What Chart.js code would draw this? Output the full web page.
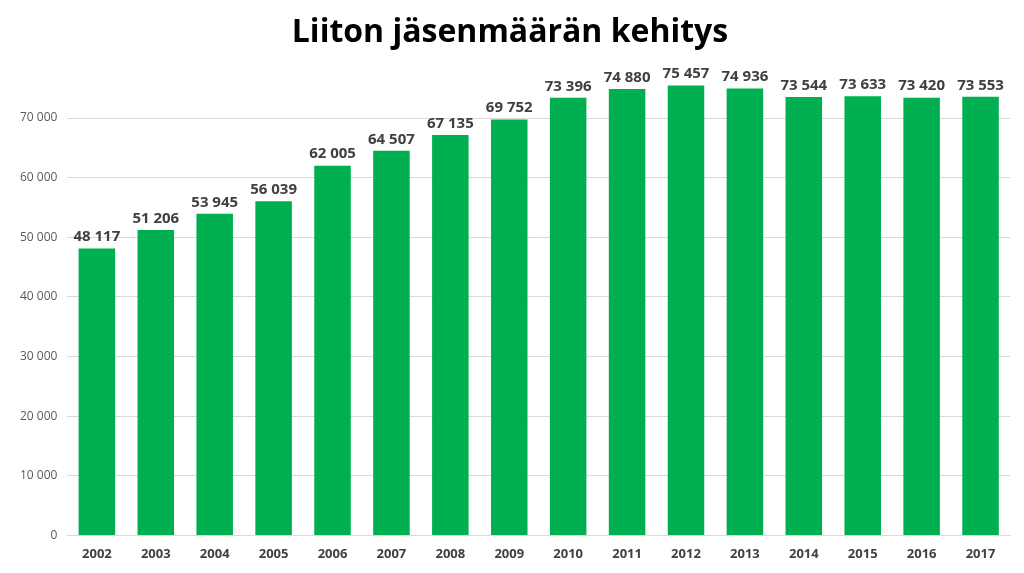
<!DOCTYPE html>
<html>
<head>
<meta charset="utf-8">
<script src="https://cdn.jsdelivr.net/npm/chart.js@4"></script>
<style>
  html, body { margin: 0; padding: 0; background: #fff; }
  #wrap { width: 1024px; height: 573px; }
</style>
</head>
<body>
<div id="wrap"><canvas id="chart"></canvas></div>
<script>
const years = ['2002', '2003', '2004', '2005', '2006', '2007', '2008', '2009',
  '2010', '2011', '2012', '2013', '2014', '2015', '2016', '2017'];
const members = [48117, 51206, 53945, 56039, 62005, 64507, 67135, 69752,
  73396, 74880, 75457, 74936, 73544, 73633, 73420, 73553];
const chartTitle = 'Liiton jäsenmäärän kehitys';

const fmt = (n) => String(n).replace(/\B(?=(\d{3})+(?!\d))/g, '\u00a0');

// value labels above bars
const barLabels = {
  id: 'barLabels',
  afterDatasetsDraw(chart) {
    const ctx = chart.ctx;
    const meta = chart.getDatasetMeta(0);
    ctx.save();
    ctx.font = 'bold 15px "Open Sans", sans-serif';
    ctx.fillStyle = '#404040';
    ctx.textAlign = 'center';
    ctx.textBaseline = 'bottom';
    meta.data.forEach((bar, i) => {
      ctx.fillText(fmt(members[i]), bar.x, bar.y - 4);
    });
    ctx.restore();
  }
};

new Chart(document.getElementById('chart'), {
  type: 'bar',
  data: {
    labels: years,
    datasets: [{
      data: members,
      backgroundColor: '#00B050',
      barPercentage: 0.62,
      categoryPercentage: 1
    }]
  },
  options: {
    responsive: true,
    maintainAspectRatio: false,
    animation: false,
    layout: { padding: { left: 10, right: 14, bottom: 8 } },
    plugins: {
      legend: { display: false },
      tooltip: { enabled: false },
      title: {
        display: true,
        text: chartTitle,
        color: '#000',
        font: { family: '"Open Sans", sans-serif', size: 32, weight: 'bold' },
        padding: { top: 14, bottom: 6 }
      }
    },
    scales: {
      x: {
        grid: { display: false },
        border: { color: '#d9d9d9' },
        ticks: { color: '#404040', font: { family: '"Open Sans", sans-serif', size: 13, weight: 'bold' } }
      },
      y: {
        min: 0,
        max: 80000,
        border: { display: false },
        grid: {
          color: (c) => c.tick && c.tick.value === 80000 ? 'rgba(0,0,0,0)' : '#d9d9d9',
          drawTicks: false
        },
        ticks: {
          stepSize: 10000,
          padding: 10,
          color: '#595959',
          font: { family: '"Open Sans", sans-serif', size: 12 },
          callback: (v) => v === 80000 ? '' : fmt(v)
        }
      }
    }
  },
  plugins: [barLabels]
});
</script>
</body>
</html>
